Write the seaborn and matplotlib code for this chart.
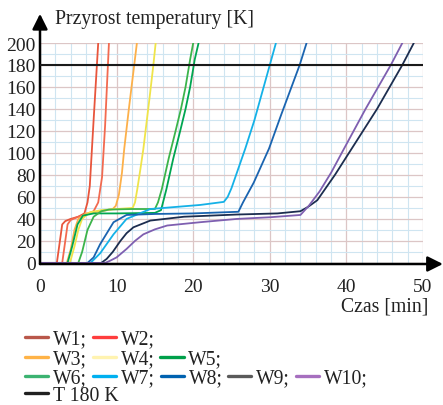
import numpy as np
import pandas as pd
import matplotlib
matplotlib.use("Agg")
import matplotlib.pyplot as plt
from matplotlib.lines import Line2D
from matplotlib.ticker import MultipleLocator
import seaborn as sns

# czas [min] i przyrost temperatury [K]
t_w1 = [0, 2.2, 2.5, 2.9, 3.3, 4, 5, 5.8, 6.2, 6.5, 7.0, 7.6]
T_w1 = [0, 0, 15, 35, 38, 40, 42, 45, 55, 70, 130, 200]
t_w2 = [0, 2.9, 3.2, 3.6, 4, 5, 6, 7, 7.6, 8.1, 8.5, 9.0]
T_w2 = [0, 0, 15, 35, 39, 42, 44, 47, 55, 78, 125, 200]
t_w3 = [0, 3.5, 4, 4.5, 5, 6, 8, 9.5, 9.9, 10.3, 10.7, 11.0, 11.6, 12.3, 12.65]
T_w3 = [0, 0, 12, 30, 40, 45, 47, 49, 52, 62, 82, 104, 140, 180, 200]
t_w4 = [0, 3.9, 4.5, 5, 5.5, 6.5, 8, 10, 12.1, 12.4, 12.7, 13.1, 13.5, 14.3, 14.8, 15.1]
T_w4 = [0, 0, 15, 30, 40, 46, 48, 49, 50, 55, 67, 85, 104, 150, 180, 200]
t_w5 = [0, 3.6, 4.2, 4.9, 5.6, 7, 10, 15, 15.8, 16.5, 17.4, 18.3, 19.0, 19.6, 20.2, 20.7]
T_w5 = [0, 0, 15, 35, 43, 45, 45, 45.5, 48, 67, 95, 120, 140, 160, 185, 200]
t_w6 = [0, 5.0, 5.5, 6.2, 7, 8, 9, 12, 15, 15.4, 15.9, 16.8, 17.7, 18.4, 19.0, 19.6, 20.0]
T_w6 = [0, 0, 10, 30, 42, 47, 48.5, 49, 49, 55, 67, 95, 120, 140, 160, 185, 200]
t_w7 = [0, 6.6, 7.85, 9.6, 11.3, 14.4, 20.9, 24, 24.5, 25, 25.6, 26.8, 28, 29.2, 30, 30.8]
T_w7 = [0, 0, 8.7, 26, 40, 49, 52.7, 55.5, 60, 68, 80, 104, 130, 160, 180, 200]
t_w8 = [0, 6.2, 7, 7.85, 9.6, 11.3, 15, 20, 25.9, 26.5, 27.9, 29.9, 31.5, 33.9, 34.8]
T_w8 = [0, 0, 5, 17, 37, 43.6, 44.5, 45, 46.5, 55, 73, 104, 135, 180, 200]
t_w9 = [0, 8.0, 8.7, 9.5, 10.5, 11.3, 12.2, 14.4, 18.8, 25.7, 31, 34, 35, 36.2,
        38.5, 40.7, 44, 47.3, 48.8]
T_w9 = [0, 0, 3.6, 10, 20, 27, 32.4, 38.5, 42, 44, 45, 47, 51, 57,
        80, 104, 140, 180, 200]
t_w10 = [0, 8.5, 9.1, 10, 11.3, 12.4, 13.5, 15, 16.6, 20.9, 25.7, 30, 34, 35.1,
         36.5, 38, 39.7, 42.5, 45.8, 47.3]
T_w10 = [0, 0, 1.8, 5, 12.7, 20, 26, 30.5, 34, 37, 40, 41.5, 43.6, 52,
         65, 82, 104, 140, 180, 200]

series = ["W1", "W2", "W3", "W4", "W5", "W6", "W7", "W8", "W9", "W10"]
times = [t_w1, t_w2, t_w3, t_w4, t_w5, t_w6, t_w7, t_w8, t_w9, t_w10]
temps = [T_w1, T_w2, T_w3, T_w4, T_w5, T_w6, T_w7, T_w8, T_w9, T_w10]
limit_T = 180

# kolory linii na wykresie i kolory w legendzie (w oryginale sie roznia)
line_colors = ["#e8553c", "#f26a50", "#fdb04a", "#efe44a", "#00a651",
               "#3cb44b", "#14b1e7", "#1a64b0", "#1c2d4f", "#7e5fb0"]
legend_colors = ["#b9574a", "#ff3d3d", "#ffb347", "#fff3b0", "#00a04a",
                 "#3cb371", "#00b0f0", "#0062b0", "#5a5a5a", "#a66fbf"]
legend_rows = [["W1", "W2"], ["W3", "W4", "W5"],
               ["W6", "W7", "W8", "W9", "W10"], ["T 180 K"]]

rows = []
for name, tt, TT in zip(series, times, temps):
    for a, b in zip(tt, TT):
        rows.append((name, a, b))
df = pd.DataFrame(rows, columns=["seria", "czas", "dT"])

sns.set_theme(style="white")
plt.rcParams["font.family"] = ["Liberation Serif", "DejaVu Serif"]

fig = plt.figure(figsize=(4.43, 4.06), dpi=100)
ax = fig.add_axes([40 / 443, (406 - 265) / 406, 383 / 443, 221 / 406])

sns.lineplot(data=df, x="czas", y="dT", hue="seria", hue_order=series,
             palette=dict(zip(series, line_colors)), estimator=None,
             sort=False, legend=False, lw=1.3, ax=ax, zorder=3)
ax.axhline(limit_T, color="#1a1a1a", lw=1.5, zorder=4)

ax.set_xlim(0, 50)
ax.set_ylim(-1, 200)
ax.xaxis.set_major_locator(MultipleLocator(10))
ax.xaxis.set_minor_locator(MultipleLocator(2))
ax.yaxis.set_major_locator(MultipleLocator(20))
ax.yaxis.set_minor_locator(MultipleLocator(10))
ax.grid(which="minor", color="#cfe5f1", lw=0.8)
ax.grid(which="major", color="#dcc6c6", lw=0.9)
ax.set_axisbelow(True)
ax.tick_params(which="both", length=0, labelsize=14, colors="#222222")
ax.tick_params(axis="x", pad=10)
ax.tick_params(axis="y", pad=3)
ax.set_xlabel("")
ax.set_ylabel("")
for s in ax.spines.values():
    s.set_visible(False)

# osie ze strzalkami
arrow = dict(arrowstyle="-|>,head_length=0.4,head_width=0.2", color="black",
             lw=1.8, mutation_scale=23, shrinkA=0, shrinkB=0)
ax.annotate("", xy=(0, 1.132), xytext=(0, 0), xycoords="axes fraction",
            arrowprops=arrow, annotation_clip=False)
ax.annotate("", xy=(1.052, 0), xytext=(0, 0), xycoords="axes fraction",
            arrowprops=arrow, annotation_clip=False)

ax.text(15 / 383, (265 - 19) / 221, "Przyrost temperatury [K]",
        transform=ax.transAxes, ha="left", va="center", fontsize=14.2,
        color="#222222")
ax.text(1.013, -42 / 221, "Czas [min]", transform=ax.transAxes,
        ha="right", va="center", fontsize=14.2, color="#222222")

# legenda w czterech wierszach
col_of = dict(zip(series, legend_colors))
col_of["T 180 K"] = "#202020"
row_y = [340, 360, 379, 396.5]
for names, y in zip(legend_rows, row_y):
    handles = [Line2D([], [], color=col_of[n], lw=2.4) for n in names]
    labels = [n if n.startswith("T") else n + ";" for n in names]
    fig.legend(handles, labels, loc="center left",
               bbox_to_anchor=(25 / 443, 1 - y / 406), ncol=len(names),
               frameon=False, fontsize=14.2, handlelength=1.17,
               handletextpad=0.25, columnspacing=0.3, borderpad=0,
               borderaxespad=0, labelcolor="#222222")

fig.savefig("out.png", dpi=100)
